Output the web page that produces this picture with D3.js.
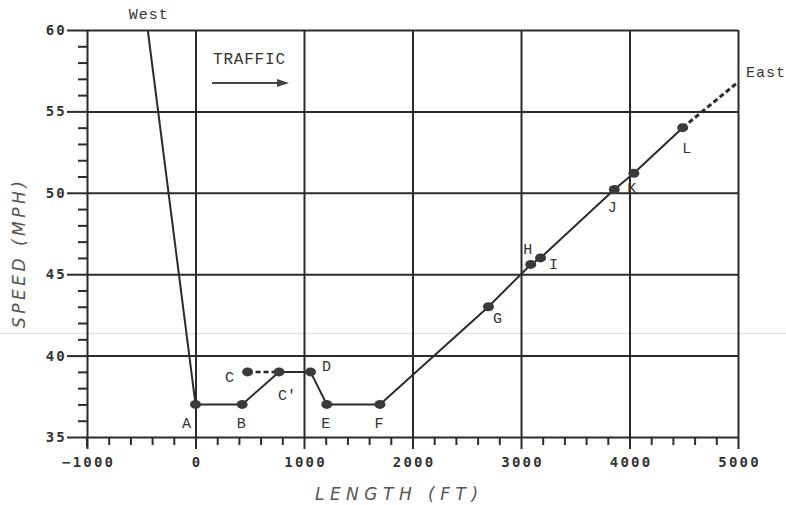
<!DOCTYPE html>
<html>
<head>
<meta charset="utf-8">
<script src="https://cdn.jsdelivr.net/npm/d3@7"></script>
<style>
body { margin: 0; background: #fff; }
svg { display: block; }
.tick text { font-family: "DejaVu Sans Mono", monospace; font-weight: bold; font-size: 14px; fill: #333; letter-spacing: 2.2px; }
.lbl { font-family: "Liberation Mono", "DejaVu Sans Mono", monospace; font-size: 15px; fill: #333; }
.title { font-family: "DejaVu Sans", sans-serif; font-style: italic; font-weight: 300; font-size: 17px; fill: #555; letter-spacing: 5.5px; }
</style>
</head>
<body>
<svg width="786" height="505"></svg>
<script>
var xTicks = [-1000, 0, 1000, 2000, 3000, 4000, 5000];
var yTicks = [35, 40, 45, 50, 55, 60];

// main trace A..L (ft, mph)
var pointNames = ["A", "B", "C'", "D", "E", "F", "G", "H", "I", "J", "K", "L"];
var pointFt    = [0, 430, 770, 1060, 1210, 1700, 2700, 3090, 3180, 3860, 4040, 4490];
var pointMph   = [37, 37, 39, 39, 37, 37, 43, 45.6, 46, 50.2, 51.2, 54];

// dashed pieces
var cFt = [480, 770], cMph = [39, 39];
var eastFt = [4490, 5000], eastMph = [54, 56.8];
var westFt = [-440, 0], westMph = [60, 37];

var labelDx = {"A": -9, "B": -1, "C'": 8, "D": 16, "E": -1, "F": -1, "G": 9, "H": -3, "I": 13, "J": -2, "K": -2, "L": 4};
var labelDy = {"A": 24, "B": 24, "C'": 28, "D": -1, "E": 24, "F": 24, "G": 16, "H": -10, "I": 11, "J": 22, "K": 20, "L": 25};

var svg = d3.select("svg");

var x = d3.scaleLinear().domain([-1000, 5000]).range([87, 738]);
var y = d3.scaleLinear().domain([35, 60]).range([437, 30]);

var ink = "#2b2b2b";

// faint scan line
svg.append("line")
.attr("x1", 0).attr("x2", 786)
.attr("y1", y(41.35)).attr("y2", y(41.35))
.style("stroke", "#e2e2e2").style("stroke-width", 1.5);

// grid
svg.append("g")
.call(d3.axisBottom(x).tickValues(xTicks.slice(1)).tickFormat("").tickSize(-(y(35) - y(60))))
.attr("transform", "translate(0," + y(35) + ")")
.call(function (g) { g.select(".domain").remove(); })
.selectAll("line").style("stroke", ink).style("stroke-width", 2);

svg.append("g")
.call(d3.axisLeft(y).tickValues(yTicks.slice(1)).tickFormat("").tickSize(-(x(5000) - x(-1000))))
.attr("transform", "translate(" + x(-1000) + ",0)")
.call(function (g) { g.select(".domain").remove(); })
.selectAll("line").style("stroke", ink).style("stroke-width", 2);

// minor ticks
var xMinor = d3.range(-1000, 5001, 200).filter(function (v) { return v % 1000 !== 0; });
var yMinor = d3.range(35, 60, 1).filter(function (v) { return v % 5 !== 0; });

svg.append("g")
.call(d3.axisBottom(x).tickValues(xMinor).tickFormat("").tickSize(8).tickSizeOuter(0))
.attr("transform", "translate(0," + y(35) + ")")
.call(function (g) { g.select(".domain").remove(); })
.selectAll("line").style("stroke", ink).style("stroke-width", 2);

svg.append("g")
.call(d3.axisLeft(y).tickValues(yMinor).tickFormat("").tickSize(9).tickSizeOuter(0))
.attr("transform", "translate(" + x(-1000) + ",0)")
.call(function (g) { g.select(".domain").remove(); })
.selectAll("line").style("stroke", ink).style("stroke-width", 2);

// major axes
var xAxis = svg.append("g")
.call(d3.axisBottom(x).tickValues(xTicks).tickFormat(d3.format("d")).tickSize(12).tickSizeOuter(0).tickPadding(8))
.attr("transform", "translate(0," + y(35) + ")");
xAxis.select(".domain").style("stroke", ink).style("stroke-width", 2);
xAxis.selectAll("line").style("stroke", ink).style("stroke-width", 2);
xAxis.selectAll("text")
.attr("dx", 1.1)
.text(function (d) { return d < 0 ? "\u2212" + (-d) : d; });

var yAxis = svg.append("g")
.call(d3.axisLeft(y).tickValues(yTicks).tickSize(20).tickSizeOuter(0).tickPadding(0))
.attr("transform", "translate(" + x(-1000) + ",0)");
yAxis.select(".domain").style("stroke", ink).style("stroke-width", 2);
yAxis.selectAll("line").style("stroke", ink).style("stroke-width", 2);

// y axis continues a little below the x axis
svg.append("line")
.attr("x1", x(-1000)).attr("x2", x(-1000))
.attr("y1", y(35)).attr("y2", y(35) + 10)
.style("stroke", ink).style("stroke-width", 2);

var line = d3.line()
.x(function (d) { return x(d[0]); })
.y(function (d) { return y(d[1]); });

// west approach
svg.append("path")
.attr("d", line(d3.zip(westFt, westMph)))
.style("fill", "none").style("stroke", ink).style("stroke-width", 2);

// main trace
var pts = d3.zip(pointFt, pointMph);
svg.append("path")
.attr("d", line(pts))
.style("fill", "none").style("stroke", ink).style("stroke-width", 2);

// dashed C - C'
svg.append("path")
.attr("d", line(d3.zip(cFt, cMph)))
.style("fill", "none").style("stroke", ink).style("stroke-width", 2.5)
.style("stroke-dasharray", "5,3");

// dashed to east
svg.append("path")
.attr("d", line(d3.zip(eastFt, eastMph)))
.style("fill", "none").style("stroke", ink).style("stroke-width", 3)
.style("stroke-dasharray", "5,3");

// dots
var dots = pts.concat([[cFt[0], cMph[0]]]);
svg.selectAll(".dot")
.data(dots)
.enter().append("ellipse")
.attr("class", "dot")
.attr("cx", function (d) { return x(d[0]); })
.attr("cy", function (d) { return y(d[1]); })
.attr("rx", 5.5).attr("ry", 4.5)
.style("fill", "#3a3a3a");

// point labels
pointNames.forEach(function (n, i) {
	svg.append("text")
	.attr("class", "lbl")
	.attr("x", x(pointFt[i]) + labelDx[n])
	.attr("y", y(pointMph[i]) + labelDy[n])
	.attr("text-anchor", "middle")
	.text(n);
});

svg.append("text")
.attr("class", "lbl")
.attr("x", x(cFt[0]) - 18)
.attr("y", y(cMph[0]) + 10)
.attr("text-anchor", "middle")
.text("C");

svg.append("text")
.attr("class", "lbl")
.attr("x", x(westFt[0]) + 1)
.attr("y", 19)
.attr("text-anchor", "middle")
.style("letter-spacing", "1px")
.text("West");

svg.append("text")
.attr("class", "lbl")
.attr("x", x(eastFt[1]) + 8)
.attr("y", 77)
.style("letter-spacing", "1px")
.text("East");

svg.append("text")
.attr("class", "lbl")
.attr("x", 213)
.attr("y", 64)
.style("font-size", "16px")
.style("letter-spacing", "0.8px")
.text("TRAFFIC");

// traffic arrow
svg.append("line")
.attr("x1", 212).attr("x2", 278)
.attr("y1", 83).attr("y2", 83)
.style("stroke", "#444").style("stroke-width", 2);
svg.append("path")
.attr("d", "M277,79 L289,83 L277,87 Z")
.style("fill", "#444");

// axis titles
svg.append("text")
.attr("class", "title")
.attr("x", x(1850) + 3)
.attr("y", 500)
.attr("text-anchor", "middle")
.text("LENGTH (FT)");

svg.append("text")
.attr("class", "title")
.attr("transform", "translate(25," + (y(46.5) + 3) + ") rotate(-90)")
.attr("text-anchor", "middle")
.style("letter-spacing", "3.5px")
.text("SPEED (MPH)");
</script>
</body>
</html>
